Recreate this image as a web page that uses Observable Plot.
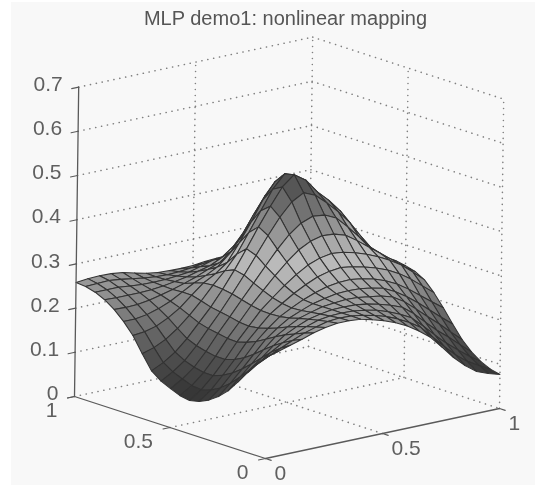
<!DOCTYPE html>
<html><head><meta charset="utf-8">
<script src="https://cdn.jsdelivr.net/npm/d3@7"></script>
<script src="https://cdn.jsdelivr.net/npm/@observablehq/plot@0.6"></script>
<style>html,body{margin:0;background:#fff;overflow:hidden}
#c svg{display:block;margin:2px 0 0 11px;background:#f8f8f8;filter:blur(.45px)}</style>
</head><body><div id="c"></div>
<script>
const titleText = "MLP demo1: nonlinear mapping";
const xTicks = [0, 0.5, 1];
const yTicks = [0, 0.5, 1];
const zTicks = [0, 0.1, 0.2, 0.3, 0.4, 0.5, 0.6, 0.7];
const zRows = [
[.230,.237,.245,.253,.262,.268,.272,.272,.270,.263,.255,.245,.232,.215,.195,.167,.138,.114,.095,.085,.077],
[.206,.219,.231,.243,.254,.262,.269,.271,.270,.266,.260,.252,.241,.227,.210,.183,.156,.131,.111,.096,.082],
[.180,.198,.215,.231,.245,.256,.265,.269,.270,.269,.265,.259,.250,.239,.225,.201,.175,.151,.130,.110,.092],
[.152,.174,.195,.217,.236,.249,.260,.266,.270,.271,.270,.266,.260,.252,.242,.222,.197,.173,.152,.129,.107],
[.125,.150,.175,.201,.225,.241,.255,.263,.270,.273,.275,.274,.270,.266,.258,.242,.220,.197,.175,.151,.128],
[.105,.129,.156,.184,.212,.232,.249,.260,.270,.276,.281,.282,.281,.277,.271,.258,.241,.221,.199,.177,.156],
[.090,.112,.140,.169,.200,.224,.245,.259,.272,.282,.290,.294,.295,.291,.285,.275,.262,.245,.225,.205,.186],
[.080,.100,.128,.158,.191,.218,.244,.262,.279,.293,.305,.312,.315,.311,.305,.297,.287,.273,.255,.234,.213],
[.075,.094,.120,.151,.185,.215,.245,.268,.290,.309,.325,.335,.340,.337,.330,.321,.310,.296,.280,.258,.235],
[.079,.096,.120,.151,.186,.217,.249,.277,.305,.330,.352,.366,.373,.371,.363,.345,.325,.305,.285,.264,.247],
[.088,.104,.125,.155,.190,.222,.255,.287,.320,.352,.380,.400,.410,.407,.395,.369,.340,.311,.285,.265,.253],
[.098,.113,.133,.161,.194,.226,.261,.298,.337,.376,.412,.441,.456,.445,.422,.396,.366,.328,.293,.269,.257],
[.114,.127,.145,.170,.200,.230,.265,.303,.345,.389,.430,.468,.490,.472,.440,.415,.385,.341,.300,.272,.258],
[.146,.154,.167,.186,.210,.237,.267,.294,.326,.369,.413,.456,.485,.474,.447,.417,.381,.339,.300,.273,.258],
[.180,.183,.190,.203,.220,.243,.265,.280,.300,.338,.380,.425,.460,.458,.440,.405,.365,.328,.295,.271,.255],
[.205,.205,.209,.217,.228,.243,.258,.269,.283,.307,.339,.383,.422,.423,.409,.379,.344,.312,.284,.263,.248],
[.225,.224,.225,.229,.235,.242,.250,.259,.270,.280,.300,.337,.375,.379,.370,.347,.320,.294,.270,.252,.240],
[.240,.239,.239,.239,.240,.243,.247,.252,.259,.266,.279,.299,.322,.331,.334,.318,.297,.277,.257,.243,.232],
[.250,.250,.250,.247,.245,.244,.245,.247,.250,.257,.265,.268,.275,.288,.300,.290,.275,.260,.245,.234,.225],
[.256,.257,.258,.255,.251,.247,.244,.243,.244,.247,.251,.250,.251,.261,.271,.265,.254,.245,.234,.227,.221],
[.258,.261,.262,.261,.258,.251,.245,.241,.240,.239,.240,.243,.245,.246,.245,.241,.235,.230,.225,.222,.220]];
const colorDomain = [.07,.15,.2,.25,.3,.33,.38,.42,.46,.5];
const colorRange = ["#303030","#555555","#747474","#939393","#b2b2b2","#bbbbbb","#979797","#777777","#585858","#444444"];

// MATLAB-style 3D view: data (x, y, z) to the 2D plane of the scales
const H = (x,y,z) => 234*x - 191*y + 6*z;
const V = (x,y,z) => 50*x + 62*y + 442*z;

const n = zRows.length - 1;
const cells = [];
for (let s = 2*n-2; s >= 0; s--) for (let j = 0; j < n; j++) {
  const i = s - j; if (i < 0 || i >= n) continue;
  const corners = [[i,j],[i+1,j],[i+1,j+1],[i,j+1]];
  const c = d3.mean(corners, ([a,b]) => zRows[b][a]);
  corners.forEach(([a,b]) => cells.push({id:i+"-"+j, c, h:H(a/n,b/n,zRows[b][a]), v:V(a/n,b/n,zRows[b][a])}));
}
const seg = (id,a,b) => [{id,h:H(...a),v:V(...a)},{id,h:H(...b),v:V(...b)}];
const grid = [];
zTicks.forEach(z => { grid.push(...seg("a"+z,[0,1,z],[1,1,z]), ...seg("b"+z,[1,1,z],[1,0,z])); });
const zMax = zTicks[zTicks.length-1];
grid.push(...seg("c",[.5,1,0],[.5,1,zMax]), ...seg("d",[1,1,0],[1,1,zMax]), ...seg("e",[1,.5,0],[1,.5,zMax]), ...seg("f",[1,0,0],[1,0,zMax]));
grid.push(...seg("g",[.5,0,0],[.5,1,0]), ...seg("i",[0,.5,0],[1,.5,0]));
const axes = [...seg("x",[0,0,0],[1,0,0]), ...seg("y",[0,0,0],[0,1,0]), ...seg("z",[0,1,0],[0,1,zMax])];
const ticks = [];
xTicks.forEach(t => ticks.push(...seg("tx"+t,[t,0,0],[t,-.03,0])));
yTicks.forEach(t => ticks.push(...seg("ty"+t,[0,t,0],[-.03,t,0])));
zTicks.forEach(t => ticks.push(...seg("tz"+t,[0,1,t],[-.03,1,t])));

const pos = {x:"h", y:"v"};
const font = {fontFamily:"Liberation Sans, Arial, sans-serif", fill:"#5f5f5f", fontSize:21};
const plot = Plot.plot({
  width:524, height:483, margin:0,
  x:{domain:[-254,270], range:[0,524], axis:null},
  y:{domain:[456,-27], range:[0,483], axis:null},
  color:{type:"linear", domain:colorDomain, range:colorRange, interpolate:"rgb", legend:false},
  marks:[
    Plot.line(grid,{...pos, z:"id", stroke:"#808080", strokeWidth:1.6, strokeLinecap:"round", strokeDasharray:"0.1,5.9"}),
    Plot.line(cells,{...pos, z:"id", fill:"c", stroke:"#333333", strokeWidth:1.05, curve:"linear-closed", strokeLinejoin:"round"}),
    Plot.line(axes,{...pos, z:"id", stroke:"#5a5a5a", strokeWidth:1.3}),
    Plot.line(ticks,{...pos, z:"id", stroke:"#5a5a5a", strokeWidth:1.1}),
    Plot.text(zTicks,{x:t=>H(0,1,t), y:t=>V(0,1,t), text:t=>String(t), textAnchor:"end", dx:-16, dy:-3, ...font}),
    Plot.text(xTicks,{x:t=>H(t,0,0), y:t=>V(t,0,0), text:t=>String(t), textAnchor:"start", dx:9, dy:15, ...font}),
    Plot.text(yTicks,{x:t=>H(0,t,0), y:t=>V(0,t,0), text:t=>String(t), textAnchor:"end", dx:-17, dy:14, ...font}),
    Plot.text([titleText],{x:()=>20, y:()=>440, text:d=>d, ...font, fontSize:20, fill:"#555"})
  ]
});
document.getElementById("c").append(plot);
</script></body></html>
